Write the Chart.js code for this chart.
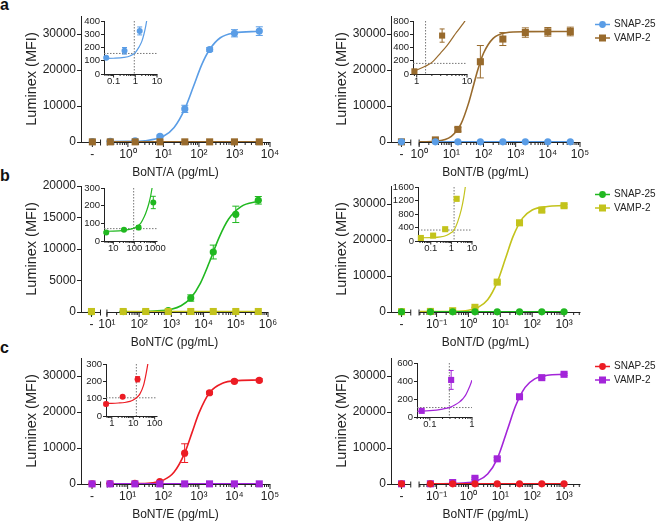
<!DOCTYPE html>
<html>
<head>
<meta charset="utf-8">
<script src="https://cdn.jsdelivr.net/npm/chart.js@4/dist/chart.umd.min.js"></script>
<style>
  html, body { margin: 0; padding: 0; background: #fff; }
  body { position: relative; width: 657px; height: 521px; overflow: hidden; }
  .box { position: absolute; }
  .tag { position: absolute; left: 0; font: bold 16px "Liberation Sans", Arial, sans-serif; line-height: 16px; color: #111; }
</style>
</head>
<body>
<div class="tag" style="top:-3px">a</div>
<div class="tag" style="top:168px">b</div>
<div class="tag" style="top:340px">c</div>
<script>
'use strict';

// tick labels
const yTicksMain = [0, 10000, 20000, 30000];
const yTicksC = [0, 5000, 10000, 15000, 20000];
const xExpA = [0, 1, 2, 3, 4];
const xExpB = [0, 1, 2, 3, 4, 5];
const xExpC = [1, 2, 3, 4, 5, 6];
const xExpD = [-1, 0, 1, 2, 3];
const xExpE = [1, 2, 3, 4, 5];
const xExpF = [-1, 0, 1, 2, 3];

// BoNT/A
const doseA = ['-', 0.32, 1.6, 8, 40, 200, 1000, 5000];
const snapA = [120, 175, 325, 1600, 9200, 25700, 30200, 30800];
const snapErrA = [0, 25, 30, 300, 1000, 500, 1000, 1200];
const vampA = [40, 40, 40, 40, 40, 40, 40, 40];
const fitXA = [0.26, 1, 3, 10, 20, 40, 70, 120, 200, 400, 1000, 5000];
const fitYA = [120, 162, 357, 1580, 4020, 9200, 15400, 21500, 25700, 28960, 30300, 30750];
const inXA = [0.046, 0.32, 1.6];
const inYA = [122, 175, 325];
const inErrA = [8, 25, 30];
const inFitXA = [0.04, 0.1, 0.3, 0.6, 1, 1.5, 2, 2.5, 3, 3.5];
const inFitYA = [118, 119, 125, 138, 162, 205, 246, 300, 357, 420];
const inTicksA = [0.1, 1, 10];
const inYTicksA = [0, 100, 200, 300, 400];
const lodA = [0.9, 155];

// BoNT/B
const doseB = ['-', 3.2, 16, 80, 400, 2000, 10000, 50000];
const snapB = [40, 40, 40, 40, 40, 40, 40, 40];
const vampB = [40, 580, 3500, 22300, 28600, 30400, 30600, 30700];
const vampErrB = [0, 100, 500, 4500, 1800, 1300, 1200, 1200];
const fitXB = [1, 3, 10, 20, 35, 50, 65, 100, 200, 500, 2000, 50000];
const fitYB = [70, 213, 1570, 5020, 11010, 16050, 19720, 24640, 28790, 30370, 30650, 30700];
const inXB = [0.9, 3.2];
const inYB = [40, 580];
const inErrB = [10, 100];
const inFitXB = [1, 1.5, 2, 3, 4, 5, 6, 7, 8, 9, 10];
const inFitYB = [60, 120, 175, 320, 430, 530, 615, 680, 740, 795, 850];
const inTicksB = [1, 10];
const inYTicksB = [0, 200, 400, 600, 800];
const lodB = [1.5, 160];

// BoNT/C
const doseC = ['-', 32, 160, 800, 4000, 20000, 100000, 500000];
const snapC = [48, 63, 76, 218, 2220, 9520, 15500, 17730];
const snapErrC = [6, 5, 12, 35, 500, 1100, 1300, 600];
const vampC = [80, 80, 80, 80, 80, 80, 80, 80];
const fitXC = [200, 300, 1000, 2000, 4000, 8000, 15000, 30000, 60000, 150000, 500000];
const fitYC = [103, 138, 447, 994, 2220, 4600, 7850, 11770, 14750, 16760, 17570];
const inXC = [4.6, 32, 160, 800];
const inYC = [48, 63, 76, 218];
const inErrC = [6, 5, 12, 35];
const inFitXC = [4, 10, 30, 60, 100, 200, 300, 400, 500, 600, 700, 800];
const inFitYC = [55, 56, 60, 66, 74, 100, 138, 177, 215, 255, 300, 345];
const inTicksC = [10, 100, 1000];
const inYTicksC = [0, 100, 200, 300];
const lodC = [93, 70];

// BoNT/D
const doseD = ['-', 0.064, 0.32, 1.6, 8, 40, 200, 1000];
const snapD = [40, 40, 40, 40, 40, 40, 40, 40];
const vampD = [90, 160, 350, 1300, 8300, 24770, 28300, 29530];
const vampErrD = [0, 20, 20, 60, 300, 400, 500, 400];
const fitXD = [0.03, 0.1, 0.3, 1, 2, 4, 8, 14.5, 25, 50, 100, 300, 1000];
const fitYD = [100, 110, 157, 494, 1266, 3400, 8300, 14850, 20930, 26070, 28340, 29300, 29550];
const inXD = [0.033, 0.13, 0.5, 1.8];
const inYD = [90, 160, 350, 1250];
const inErrD = [20, 20, 20, 60];
const inFitXD = [0.025, 0.1, 0.3, 0.6, 1, 1.35, 2, 3, 4, 5];
const inFitYD = [95, 100, 120, 170, 250, 325, 560, 920, 1300, 1700];
const inTicksD = [0.1, 1, 10];
const inYTicksD = [0, 400, 800, 1200, 1600];
const lodD = [1.35, 325];

// BoNT/E
const doseE = ['-', 3.2, 16, 80, 400, 2000, 10000, 50000];
const snapE = [69, 111, 212, 650, 8570, 25350, 28520, 28800];
const snapErrE = [10, 5, 15, 100, 2600, 400, 400, 400];
const vampE = [40, 40, 40, 40, 40, 40, 40, 40];
const fitXE = [2.7, 10, 20, 50, 100, 200, 400, 655, 1000, 2000, 5000, 10000, 50000];
const fitYE = [62, 78, 121, 366, 1072, 3233, 8570, 14480, 19620, 25350, 28120, 28670, 28880];
const inXE = [0.54, 3.2, 16];
const inYE = [69, 111, 212];
const inErrE = [10, 5, 15];
const inFitXE = [0.55, 1, 2, 4, 7, 10, 14, 20, 30, 40, 50, 60];
const inFitYE = [72, 73, 75, 78, 84, 92, 105, 125, 175, 245, 315, 400];
const inTicksE = [1, 10, 100];
const inYTicksE = [0, 100, 200, 300];
const lodE = [14, 105];

// BoNT/F
const doseF = ['-', 0.064, 0.32, 1.6, 8, 40, 200, 1000];
const snapF = [40, 40, 40, 40, 40, 40, 40, 40];
const vampF = [60, 68, 412, 1580, 6990, 24230, 29540, 30470];
const vampErrF = [0, 15, 105, 300, 400, 500, 300, 300];
const fitXF = [0.06, 0.1, 0.3, 1, 2, 4, 8, 17, 30, 60, 120, 300, 1000];
const fitYF = [64, 66, 107, 380, 1010, 2760, 6990, 15300, 21650, 26850, 29200, 30190, 30450];
const inXF = [0.064, 0.32];
const inYF = [68, 412];
const inErrF = [15, 105];
const inFitXF = [0.05, 0.1, 0.2, 0.3, 0.4, 0.5, 0.6, 0.7, 0.8, 0.9, 1];
const inFitYF = [64, 70, 88, 107, 135, 165, 200, 240, 295, 350, 410];
const inTicksF = [0.1, 1];
const inYTicksF = [0, 200, 400, 600];
const lodF = [0.29, 105];

const colRow1 = ['#5a9de6', '#986a2c'];
const colRow2 = ['#20b820', '#c3c31c'];
const colRow3 = ['#ec1c24', '#a325d9'];

Chart.defaults.font.family = '"Liberation Sans", Arial, Helvetica, sans-serif';
Chart.defaults.color = '#222';
Chart.defaults.animation = false;

const SUP = {'-': '\u207B', '0': '\u2070', '1': '\u00B9', '2': '\u00B2', '3': '\u00B3', '4': '\u2074', '5': '\u2075', '6': '\u2076'};
function pow10Label(k) {
  return '10' + String(k).split('').map(ch => SUP[ch]).join('');
}

// x axis with log ticks and an optional break after the "-" point
const logAxis = {
  id: 'logAxis',
  beforeDatasetsDraw(chart, args, o) {
    if (!o.major) return;
    const xs = chart.scales.x, ctx = chart.ctx;
    const y0 = Math.round(chart.chartArea.bottom) + 0.5;
    const px = v => xs.getPixelForValue(v);
    const start = o.s2 || xs.min;
    ctx.save();
    ctx.strokeStyle = '#222';
    ctx.lineWidth = 1;
    ctx.beginPath();
    if (o.blank) {
      ctx.moveTo(px(xs.min), y0); ctx.lineTo(px(o.s1), y0);
      ctx.moveTo(px(o.blank), y0); ctx.lineTo(px(o.blank), y0 + o.major);
      ctx.moveTo(px(o.s1), y0 - 3); ctx.lineTo(px(o.s1), y0 + 3);
      ctx.moveTo(px(start), y0 - 3); ctx.lineTo(px(start), y0 + 3);
    }
    ctx.moveTo(px(start), y0); ctx.lineTo(px(xs.max) + 0.5, y0);
    for (let k = Math.floor(Math.log10(start)); k <= Math.ceil(Math.log10(xs.max)); k++) {
      for (let m = 1; m < 10; m++) {
        const v = m * Math.pow(10, k);
        if (v < start * 0.999 || v > xs.max * 1.001) continue;
        ctx.moveTo(px(v), y0);
        ctx.lineTo(px(v), y0 + (m === 1 ? o.major : o.minor));
      }
    }
    ctx.stroke();
    ctx.restore();
  }
};

const lodLines = {
  id: 'lod',
  beforeDatasetsDraw(chart, args, o) {
    if (o.x == null) return;
    const a = chart.chartArea, ctx = chart.ctx;
    const px = chart.scales.x.getPixelForValue(o.x);
    const py = chart.scales.y.getPixelForValue(o.y);
    ctx.save();
    ctx.strokeStyle = '#777';
    ctx.lineWidth = 1;
    ctx.setLineDash([1.5, 1.5]);
    ctx.beginPath();
    ctx.moveTo(a.left, py); ctx.lineTo(a.right, py);
    ctx.moveTo(px, a.top); ctx.lineTo(px, a.bottom);
    ctx.stroke();
    ctx.restore();
  }
};

const errBars = {
  id: 'errBars',
  beforeDatasetsDraw(chart) {
    const ctx = chart.ctx, ys = chart.scales.y;
    chart.data.datasets.forEach((ds, i) => {
      if (!ds.errors) return;
      const meta = chart.getDatasetMeta(i);
      ctx.save();
      ctx.strokeStyle = ds.borderColor;
      ctx.lineWidth = 1;
      ctx.beginPath();
      meta.data.forEach((pt, j) => {
        const e = ds.errors[j];
        if (!e) return;
        const v = ds.data[j].y, x = pt.x, w = ds.capW;
        const y1 = ys.getPixelForValue(v + e), y2 = ys.getPixelForValue(Math.max(0, v - e));
        ctx.moveTo(x, y1); ctx.lineTo(x, y2);
        ctx.moveTo(x - w, y1); ctx.lineTo(x + w, y1);
        ctx.moveTo(x - w, y2); ctx.lineTo(x + w, y2);
      });
      ctx.stroke();
      ctx.restore();
    });
  }
};

const sideLegend = {
  id: 'sideLegend',
  afterDraw(chart, args, o) {
    if (!o.items) return;
    const ctx = chart.ctx, a = chart.chartArea;
    ctx.save();
    o.items.forEach((it, i) => {
      const x = a.right + 15, y = a.top + 8.5 + i * 13.5;
      ctx.strokeStyle = it.color;
      ctx.fillStyle = it.color;
      ctx.lineWidth = 1.5;
      ctx.beginPath(); ctx.moveTo(x, y); ctx.lineTo(x + 15, y); ctx.stroke();
      ctx.beginPath();
      if (it.style === 'circle') ctx.arc(x + 7.5, y, 3.4, 0, Math.PI * 2);
      else ctx.rect(x + 4, y - 3.5, 7, 7);
      ctx.fill();
      ctx.fillStyle = '#222';
      ctx.font = '10px "Liberation Sans", Arial, sans-serif';
      ctx.textBaseline = 'middle';
      ctx.fillText(it.label, x + 19, y);
    });
    ctx.restore();
  }
};

Chart.register(logAxis, lodLines, errBars, sideLegend);

function place(area, m) {
  const left = Math.round(area.l - m.l), top = Math.round(area.t - m.t);
  const box = document.createElement('div');
  box.className = 'box';
  box.style.left = left + 'px';
  box.style.top = top + 'px';
  box.style.width = (Math.round(area.r + m.r) - left) + 'px';
  box.style.height = (Math.round(area.b + m.b) - top) + 'px';
  const cv = document.createElement('canvas');
  box.appendChild(cv);
  document.body.appendChild(box);
  return cv;
}

function pointSet(data, s, err, cap) {
  return {data, errors: err, capW: cap, showLine: false, pointStyle: s.style, pointRadius: s.r,
    pointHoverRadius: s.r, backgroundColor: s.color, borderColor: s.color, borderWidth: 0, clip: false};
}

function lineSet(data, color, w) {
  return {type: 'line', data, pointRadius: 0, borderColor: color, borderWidth: w,
    cubicInterpolationMode: 'monotone', fill: false};
}

const xy = (xs, ys) => xs.map((x, i) => ({x, y: ys[i]}));

function mainChart(c) {
  const m = {l: 81, t: 10, r: c.legend ? 77 : 30, b: 38};
  const cv = place(c.area, m);
  const blank = Math.pow(10, c.blank);
  const snapS = {color: c.colors[0], style: 'circle', r: 3.6, vals: c.snap};
  const vampS = {color: c.colors[1], style: 'rect', r: 5, vals: c.vamp};
  const act = c.active === 'snap' ? snapS : vampS;
  const idle = c.active === 'snap' ? vampS : snapS;
  const pts = vals => c.doses.map((d, i) => ({x: d === '-' ? blank : d, y: vals[i]}));
  const noBlank = vals => c.doses.map((d, i) => ({x: d, y: vals[i]})).filter(p => p.x !== '-');

  new Chart(cv, {
    type: 'scatter',
    data: {
      datasets: [
        pointSet(pts(idle.vals), idle, null, 0),
        pointSet(pts(act.vals), act, c.err, 3.5),
        lineSet(noBlank(idle.vals), idle.color, 1.5),
        lineSet(xy(c.fitX, c.fitY), act.color, 1.6)
      ]
    },
    options: {
      responsive: true,
      maintainAspectRatio: false,
      devicePixelRatio: 1,
      layout: {padding: {left: 0, top: m.t, right: m.r, bottom: 0}},
      scales: {
        x: {
          type: 'logarithmic', min: Math.pow(10, c.lo), max: Math.pow(10, c.hi), bounds: 'data',
          afterBuildTicks: s => { s.ticks = [blank].concat(c.xExp.map(k => Math.pow(10, k))).map(v => ({value: v})); },
          afterFit: s => { s.height = m.b; },
          grid: {display: false, drawTicks: false},
          border: {display: false},
          ticks: {autoSkip: false, maxRotation: 0, padding: 5, font: {size: 12},
            callback: v => v === blank ? '-' : pow10Label(Math.round(Math.log10(v)))},
          title: {display: true, text: c.title, font: {size: 12}, padding: 0}
        },
        y: {
          type: 'linear', min: 0, max: c.ymax, bounds: 'data',
          afterBuildTicks: s => { s.ticks = c.yTicks.map(v => ({value: v})); },
          afterFit: s => { s.width = m.l; },
          grid: {drawOnChartArea: false, tickLength: 4, color: '#222'},
          border: {color: '#222'},
          ticks: {autoSkip: false, padding: 1, font: {size: 12}, callback: v => String(v)},
          title: {display: true, text: 'Luminex (MFI)', font: {size: 14.5}, padding: {top: 23.5, bottom: 0}}
        }
      },
      plugins: {
        legend: {display: false},
        tooltip: {enabled: false},
        logAxis: {blank, s1: Math.pow(10, c.s1), s2: Math.pow(10, c.s2), major: 4.5, minor: 2.5},
        sideLegend: c.legend ? {items: [
          {label: 'SNAP-25', color: c.colors[0], style: 'circle'},
          {label: 'VAMP-2', color: c.colors[1], style: 'rect'}
        ]} : {}
      }
    }
  });
}

function insetChart(c) {
  const m = {l: 26, t: 8, r: 12, b: 16};
  const cv = place(c.area, m);
  const s = c.style === 'circle' ? {style: 'circle', r: 3, color: c.color} : {style: 'rect', r: 4.3, color: c.color};
  new Chart(cv, {
    type: 'scatter',
    data: {
      datasets: [
        pointSet(xy(c.x, c.y), s, c.err, 2.5),
        lineSet(xy(c.fitX, c.fitY), c.color, 1.2)
      ]
    },
    options: {
      responsive: true,
      maintainAspectRatio: false,
      devicePixelRatio: 1,
      layout: {padding: {left: 0, top: m.t, right: m.r, bottom: 0}},
      scales: {
        x: {
          type: 'logarithmic', min: Math.pow(10, c.lo), max: Math.pow(10, c.hi), bounds: 'data',
          afterBuildTicks: sc => { sc.ticks = c.xTicks.map(v => ({value: v})); },
          afterFit: sc => { sc.height = m.b; },
          grid: {display: false, drawTicks: false},
          border: {display: false},
          ticks: {autoSkip: false, maxRotation: 0, padding: 2, font: {size: 9.5}, callback: v => String(v)}
        },
        y: {
          type: 'linear', min: 0, max: c.yTicks[c.yTicks.length - 1], bounds: 'data',
          afterBuildTicks: sc => { sc.ticks = c.yTicks.map(v => ({value: v})); },
          afterFit: sc => { sc.width = m.l; },
          grid: {drawOnChartArea: false, tickLength: 3, color: '#222'},
          border: {color: '#222'},
          ticks: {autoSkip: false, padding: 1, font: {size: 9.5}, callback: v => String(v)}
        }
      },
      plugins: {
        legend: {display: false},
        tooltip: {enabled: false},
        logAxis: {major: 3, minor: 1.5},
        lod: {x: c.lod[0], y: c.lod[1]}
      }
    }
  });
}

// row a
mainChart({area: {l: 81, t: 16, r: 270, b: 142}, lo: -1.32, hi: 4, blank: -1, s1: -0.77, s2: -0.58,
  ymax: 35000, yTicks: yTicksMain, xExp: xExpA, title: 'BoNT/A (pg/mL)', doses: doseA,
  snap: snapA, vamp: vampA, err: snapErrA, fitX: fitXA, fitY: fitYA, active: 'snap', colors: colRow1, legend: false});
mainChart({area: {l: 391, t: 16, r: 580, b: 142}, lo: -0.875, hi: 5, blank: -0.55, s1: -0.26, s2: 0,
  ymax: 35000, yTicks: yTicksMain, xExp: xExpB, title: 'BoNT/B (pg/mL)', doses: doseB,
  snap: snapB, vamp: vampB, err: vampErrB, fitX: fitXB, fitY: fitYB, active: 'vamp', colors: colRow1, legend: true});
insetChart({area: {l: 104, t: 21, r: 157, b: 74}, lo: -1.44, hi: 1, yTicks: inYTicksA, xTicks: inTicksA,
  x: inXA, y: inYA, err: inErrA, fitX: inFitXA, fitY: inFitYA, lod: lodA, color: colRow1[0], style: 'circle'});
insetChart({area: {l: 413, t: 21, r: 467, b: 74}, lo: -0.074, hi: 1, yTicks: inYTicksB, xTicks: inTicksB,
  x: inXB, y: inYB, err: inErrB, fitX: inFitXB, fitY: inFitYB, lod: lodB, color: colRow1[1], style: 'rect'});

// row b
mainChart({area: {l: 81, t: 186, r: 268, b: 312}, lo: 0.195, hi: 6, blank: 0.52, s1: 0.8, s2: 1,
  ymax: 20000, yTicks: yTicksC, xExp: xExpC, title: 'BoNT/C (pg/mL)', doses: doseC,
  snap: snapC, vamp: vampC, err: snapErrC, fitX: fitXC, fitY: fitYC, active: 'snap', colors: colRow2, legend: false});
mainChart({area: {l: 391, t: 186, r: 580, b: 312}, lo: -2.43, hi: 3.5, blank: -2.1, s1: -1.81, s2: -1.55,
  ymax: 35000, yTicks: yTicksMain, xExp: xExpD, title: 'BoNT/D (pg/mL)', doses: doseD,
  snap: snapD, vamp: vampD, err: vampErrD, fitX: fitXD, fitY: fitYD, active: 'vamp', colors: colRow2, legend: true});
insetChart({area: {l: 104, t: 188, r: 157, b: 241}, lo: 0.555, hi: 3.08, yTicks: inYTicksC, xTicks: inTicksC,
  x: inXC, y: inYC, err: inErrC, fitX: inFitXC, fitY: inFitYC, lod: lodC, color: colRow2[0], style: 'circle'});
insetChart({area: {l: 418, t: 187, r: 472, b: 241}, lo: -1.62, hi: 1, yTicks: inYTicksD, xTicks: inTicksD,
  x: inXD, y: inYD, err: inErrD, fitX: inFitXD, fitY: inFitYD, lod: lodD, color: colRow2[1], style: 'rect'});

// row c
mainChart({area: {l: 81, t: 358, r: 270, b: 484}, lo: -0.31, hi: 5, blank: 0, s1: 0.24, s2: 0.43,
  ymax: 35000, yTicks: yTicksMain, xExp: xExpE, title: 'BoNT/E (pg/mL)', doses: doseE,
  snap: snapE, vamp: vampE, err: snapErrE, fitX: fitXE, fitY: fitYE, active: 'snap', colors: colRow3, legend: false});
mainChart({area: {l: 391, t: 358, r: 580, b: 484}, lo: -2.43, hi: 3.5, blank: -2.1, s1: -1.81, s2: -1.55,
  ymax: 35000, yTicks: yTicksMain, xExp: xExpF, title: 'BoNT/F (pg/mL)', doses: doseF,
  snap: snapF, vamp: vampF, err: vampErrF, fitX: fitXF, fitY: fitYF, active: 'vamp', colors: colRow3, legend: true});
insetChart({area: {l: 106, t: 364, r: 157, b: 416}, lo: -0.27, hi: 2.11, yTicks: inYTicksE, xTicks: inTicksE,
  x: inXE, y: inYE, err: inErrE, fitX: inFitXE, fitY: inFitYE, lod: lodE, color: colRow3[0], style: 'circle'});
insetChart({area: {l: 417, t: 363, r: 472, b: 417}, lo: -1.305, hi: 0, yTicks: inYTicksF, xTicks: inTicksF,
  x: inXF, y: inYF, err: inErrF, fitX: inFitXF, fitY: inFitYF, lod: lodF, color: colRow3[1], style: 'rect'});
</script>
</body>
</html>
